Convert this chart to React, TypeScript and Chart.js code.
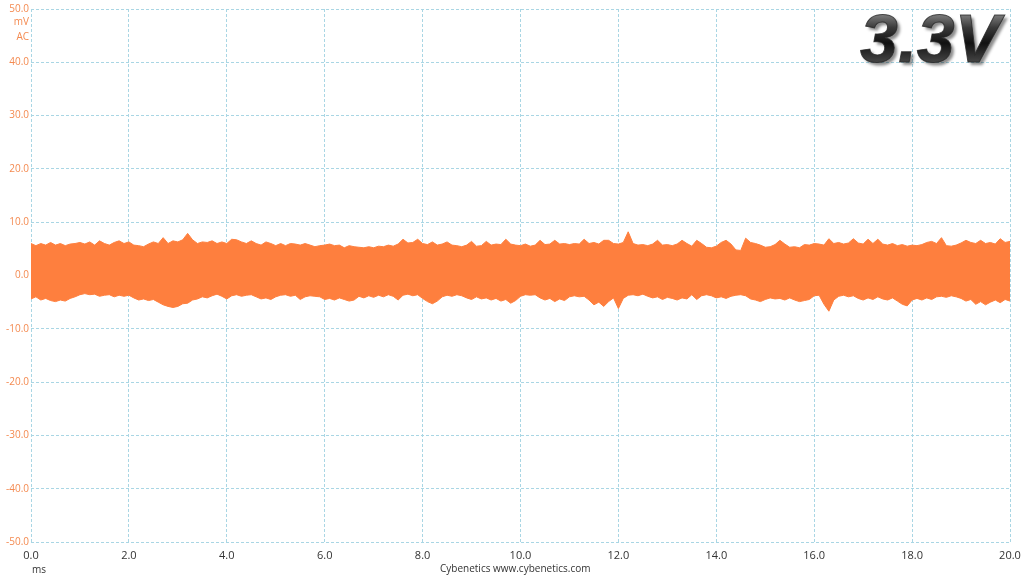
import React, { useEffect, useRef } from "react";
import { Chart, registerables } from "chart.js";

Chart.register(...registerables);

// Sample spacing of the envelope readings (ms)
const TIME_STEP_MS = 0.1;

// Upper envelope of the ripple trace (mV), one reading per 0.1 ms, 0.0 .. 20.0 ms
const UPPER_MV: number[] = [
  6.0, 5.6, 6.0, 5.7, 6.2, 5.7, 6.0, 5.6, 5.9, 6.0,
  6.2, 5.9, 6.3, 5.7, 6.5, 6.0, 5.7, 6.2, 6.5, 6.0,
  6.3, 5.7, 5.6, 5.4, 5.9, 6.3, 6.0, 7.1, 6.0, 6.5,
  6.3, 6.7, 7.9, 6.7, 6.0, 6.3, 6.2, 6.5, 6.0, 6.3,
  6.0, 6.8, 6.7, 6.3, 6.0, 6.5, 6.0, 5.7, 6.3, 6.0,
  5.6, 6.0, 5.6, 6.0, 5.9, 5.7, 6.0, 5.7, 5.4, 5.6,
  5.7, 5.9, 5.6, 5.7, 5.2, 5.6, 5.4, 5.3, 5.2, 5.4,
  5.2, 5.5, 5.4, 5.7, 5.5, 5.9, 6.8, 6.1, 6.2, 6.8,
  6.0, 5.8, 6.3, 5.7, 5.9, 6.3, 5.7, 5.6, 5.4, 5.7,
  6.4, 5.5, 5.6, 6.4, 5.7, 5.9, 5.8, 6.8, 5.9, 5.7,
  5.6, 5.9, 5.5, 5.7, 6.6, 5.8, 5.9, 6.6, 5.9, 6.0,
  5.8, 6.0, 5.9, 6.8, 6.0, 6.2, 5.9, 6.6, 6.6, 6.0,
  5.9, 6.2, 8.2, 6.0, 5.7, 5.8, 5.6, 5.9, 6.6, 5.7,
  5.8, 5.6, 5.9, 6.6, 6.0, 5.5, 6.6, 6.0, 5.3, 5.2,
  5.5, 6.2, 6.6, 5.9, 4.8, 4.7, 7.0, 6.2, 6.0, 5.7,
  5.3, 5.4, 5.8, 6.6, 5.9, 5.3, 5.4, 5.2, 5.8, 5.7,
  6.0, 5.9, 5.7, 6.9, 6.0, 6.2, 5.9, 6.1, 6.9, 6.1,
  5.9, 6.8, 6.0, 6.8, 5.9, 5.7, 6.0, 5.6, 5.8, 5.5,
  5.7, 5.6, 5.8, 6.2, 6.4, 6.0, 7.1, 5.6, 5.5, 5.7,
  6.1, 6.6, 6.2, 6.0, 6.6, 6.0, 6.2, 5.9, 6.9, 6.2,
  6.4,
];

// Lower envelope of the ripple trace (mV), one reading per 0.1 ms, 0.0 .. 20.0 ms
const LOWER_MV: number[] = [
  -4.4, -4.0, -4.6, -4.3, -4.7, -4.9, -4.6, -4.8, -4.3, -4.0,
  -3.6, -3.4, -3.6, -3.5, -3.9, -3.7, -3.6, -4.0, -3.7, -3.9,
  -3.7, -4.2, -4.6, -4.4, -4.7, -4.5, -5.0, -5.5, -5.8, -6.0,
  -5.8, -5.3, -5.2, -4.6, -4.4, -4.0, -4.2, -3.8, -3.5, -3.9,
  -4.4, -3.8, -3.6, -3.9, -3.7, -3.6, -4.0, -4.4, -4.2, -4.5,
  -4.0, -3.7, -3.6, -3.9, -3.7, -4.5, -4.0, -3.8, -3.9, -4.0,
  -4.5, -4.3, -4.6, -4.2, -4.5, -4.8, -4.6, -3.9, -4.2, -3.8,
  -4.1, -3.7, -4.0, -3.6, -3.9, -4.6, -3.7, -3.5, -3.8, -3.6,
  -4.3, -4.9, -5.3, -4.8, -4.0, -3.7, -3.9, -3.6, -3.8, -4.2,
  -4.5, -4.0, -4.4, -4.2, -4.6, -4.3, -4.8, -4.5, -5.2, -4.7,
  -3.9, -3.6, -3.7, -3.6, -4.2, -4.6, -4.3, -4.9, -4.4, -4.7,
  -4.0, -3.8, -4.0, -3.9, -4.6, -5.5, -5.0, -5.8, -4.9, -4.2,
  -6.2, -4.3, -3.7, -3.6, -3.8, -3.5, -3.9, -4.2, -4.0, -4.5,
  -4.1, -4.3, -4.6, -4.2, -4.4, -3.6, -4.5, -3.8, -3.6, -3.8,
  -4.2, -4.0, -4.3, -3.9, -3.7, -3.6, -3.8, -4.4, -4.6, -4.9,
  -4.5, -4.2, -4.4, -4.3, -4.6, -4.2, -4.6, -4.9, -4.7, -4.5,
  -3.8, -3.7, -5.4, -6.7, -4.6, -3.9, -3.7, -4.0, -3.8, -4.3,
  -4.6, -4.2, -4.5, -4.0, -4.4, -4.6, -4.2, -4.8, -5.4, -5.7,
  -4.6, -4.3, -4.6, -4.2, -4.5, -4.0, -3.9, -4.1, -3.8, -4.0,
  -4.3, -4.8, -4.5, -5.4, -4.9, -5.5, -5.0, -4.6, -5.1, -4.5,
  -4.8,
];

const X_MIN = 0;
const X_MAX = 20;
const X_STEP = 2;
const Y_MIN = -50;
const Y_MAX = 50;
const Y_STEP = 10;

const TITLE = "3.3V";
const Y_UNIT_LINES = ["mV", "AC"];
const X_UNIT = "ms";
const CREDIT_NAME = "Cybenetics";
const CREDIT_URL = "www.cybenetics.com";

const ORANGE = "#fe7f3e";
const LABEL_ORANGE = "#f48a50";
const GRID = "#a9d6e4";
const FONT = '"Open Sans", "Noto Sans", sans-serif';

const overlayPlugin = {
  id: "overlayTexts",
  afterDraw(chart: any) {
    const ctx: CanvasRenderingContext2D = chart.ctx;
    ctx.save();
    // unit labels on the y axis
    ctx.font = `10px ${FONT}`;
    ctx.fillStyle = LABEL_ORANGE;
    ctx.textAlign = "right";
    ctx.textBaseline = "middle";
    ctx.fillText(Y_UNIT_LINES[0], 29, 22);
    ctx.fillText(Y_UNIT_LINES[1], 29, 37);

    // x unit and credit
    ctx.font = `10px ${FONT}`;
    ctx.fillStyle = "#333333";
    ctx.textAlign = "left";
    ctx.textBaseline = "alphabetic";
    ctx.fillText(X_UNIT, 32, 573);
    ctx.fillText(CREDIT_NAME, 440, 572);
    ctx.fillText(CREDIT_URL, 493, 572);

    // big title
    ctx.font = `italic bold 68px "Liberation Sans", Arial, sans-serif`;
    ctx.textAlign = "right";
    ctx.textBaseline = "alphabetic";
    const g = ctx.createLinearGradient(0, 12, 0, 64);
    g.addColorStop(0, "#8a8a8a");
    g.addColorStop(0.3, "#3a3a3a");
    g.addColorStop(0.6, "#111111");
    g.addColorStop(1, "#4a4a4a");
    ctx.shadowColor = "rgba(0,0,0,0.45)";
    ctx.shadowOffsetX = 3;
    ctx.shadowOffsetY = 3;
    ctx.shadowBlur = 3;
    ctx.fillStyle = g;
    ctx.fillText(TITLE, 1000, 62);
    ctx.shadowColor = "transparent";
    ctx.lineWidth = 1;
    ctx.strokeStyle = "rgba(40,40,40,0.8)";
    ctx.strokeText(TITLE, 1000, 62);
    ctx.restore();
  },
};

export default function App() {
  const ref = useRef<HTMLCanvasElement | null>(null);

  useEffect(() => {
    document.body.style.margin = "0";
    const canvas = ref.current;
    if (!canvas) return;

    const upper = UPPER_MV.map((v, i) => ({ x: +(i * TIME_STEP_MS).toFixed(2), y: v }));
    const lower = LOWER_MV.map((v, i) => ({ x: +(i * TIME_STEP_MS).toFixed(2), y: v }));

    const chart = new Chart(canvas, {
      type: "line",
      data: {
        datasets: [
          {
            label: "max",
            data: upper,
            borderColor: ORANGE,
            backgroundColor: ORANGE,
            borderWidth: 1,
            pointRadius: 0,
            tension: 0,
            fill: "+1",
          },
          {
            label: "min",
            data: lower,
            borderColor: ORANGE,
            backgroundColor: ORANGE,
            borderWidth: 1,
            pointRadius: 0,
            tension: 0,
            fill: false,
          },
        ],
      },
      options: {
        animation: false,
        responsive: false,
        maintainAspectRatio: false,
        layout: { padding: { left: 0, right: 14, top: 9, bottom: 0 } },
        plugins: {
          legend: { display: false },
          tooltip: { enabled: false },
          title: { display: false },
        },
        scales: {
          x: {
            type: "linear",
            min: X_MIN,
            max: X_MAX,
            afterFit: (s: any) => {
              s.height = 34;
              s.paddingLeft = 0;
              s.paddingRight = 0;
            },
            border: { display: false, dash: [3, 2] },
            grid: {
              color: GRID,
              lineWidth: 1,
              drawTicks: false,
            },
            ticks: {
              stepSize: X_STEP,
              padding: 7,
              color: "#333333",
              font: { family: FONT, size: 11 },
              maxRotation: 0,
              callback: (v: any) => Number(v).toFixed(1),
            },
          },
          y: {
            type: "linear",
            min: Y_MIN,
            max: Y_MAX,
            afterFit: (s: any) => {
              s.width = 31;
              s.paddingTop = 0;
              s.paddingBottom = 0;
            },
            border: { display: false, dash: [3, 2] },
            grid: {
              color: GRID,
              lineWidth: 1,
              drawTicks: false,
            },
            ticks: {
              stepSize: Y_STEP,
              padding: 2,
              color: LABEL_ORANGE,
              font: { family: FONT, size: 10 },
              callback: (v: any) => Number(v).toFixed(1),
            },
          },
        },
      },
      plugins: [overlayPlugin],
    } as any);

    return () => chart.destroy();
  }, []);

  return (
    <div style={{ width: 1024, height: 576, background: "#ffffff" }}>
      <canvas ref={ref} width={1024} height={576} />
    </div>
  );
}
